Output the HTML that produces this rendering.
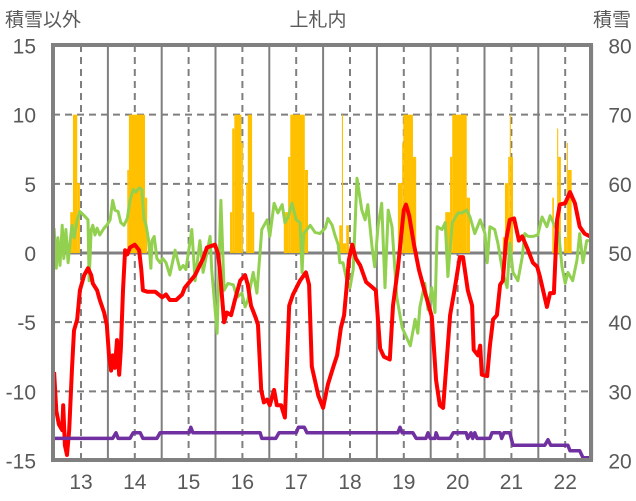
<!DOCTYPE html>
<html><head><meta charset="utf-8">
<style>
html,body{margin:0;padding:0;background:#fff;}
svg{display:block;font-family:"Liberation Sans","Noto Sans CJK JP",sans-serif;}
</style></head>
<body>
<svg id="chart" width="636" height="501" viewBox="0 0 636 501" xmlns="http://www.w3.org/2000/svg">
  <text x="5" y="26" font-size="19" fill="#595959">積雪以外</text>
  <text x="318" y="26" font-size="19" fill="#595959" text-anchor="middle">上札内</text>
  <text x="631" y="26" font-size="19" fill="#595959" text-anchor="end">積雪</text>
  <g id="grid"></g>
  <g id="bars"></g>
  <g id="lines"></g>
  <g id="axes"></g>
</svg>
<script>
const yearTicks=[13,14,15,16,17,18,19,20,21,22];
const leftTicks=[15,10,5,0,-5,-10,-15];
const rightTicks=[80,70,60,50,40,30,20];

const redT=[12.50,12.54,12.59,12.65,12.67,12.70,12.74,12.78,12.83,12.87,12.93,12.98,13.06,13.13,13.19,13.22,13.30,13.35,13.43,13.48,13.52,13.56,13.59,13.63,13.67,13.71,13.74,13.78,13.82,13.86,13.91,14.00,14.08,14.12,14.15,14.23,14.38,14.51,14.58,14.65,14.77,14.88,14.93,15.12,15.27,15.34,15.49,15.55,15.58,15.66,15.71,15.79,15.86,15.96,16.05,16.10,16.16,16.25,16.29,16.35,16.40,16.46,16.51,16.59,16.64,16.72,16.79,16.87,16.94,17.07,17.18,17.24,17.29,17.41,17.50,17.59,17.70,17.76,17.83,17.89,17.94,17.98,18.04,18.11,18.19,18.30,18.48,18.56,18.63,18.74,18.80,18.89,19.00,19.04,19.10,19.19,19.28,19.39,19.52,19.60,19.67,19.73,19.80,19.86,19.95,20.04,20.10,20.19,20.27,20.30,20.38,20.42,20.45,20.55,20.60,20.66,20.73,20.79,20.84,20.90,20.97,21.05,21.14,21.20,21.29,21.40,21.48,21.53,21.66,21.72,21.79,21.85,21.90,22.00,22.09,22.18,22.27,22.36,22.46];
const redV=[-8.6,-11.4,-12.4,-12.8,-11.0,-13.9,-14.6,-12.8,-8.5,-5.6,-4.8,-2.7,-1.6,-1.1,-1.6,-2.2,-2.7,-3.4,-4.3,-5.2,-7.4,-8.5,-7.4,-8.3,-6.3,-8.8,-7.0,-2.7,0.2,-0.1,0.4,0.6,0.2,-1.2,-2.7,-2.8,-2.8,-3.2,-3.0,-3.4,-3.4,-3.0,-2.5,-1.6,-0.4,0.4,0.6,-0.1,-1.2,-5.0,-4.3,-4.5,-3.4,-2.0,-1.6,-2.3,-3.8,-4.7,-5.2,-9.9,-10.8,-10.6,-11.0,-9.9,-11.0,-11.0,-11.9,-3.8,-3.0,-2.0,-1.4,-2.3,-8.2,-10.3,-11.2,-9.5,-8.1,-7.4,-5.4,-4.5,-2.3,-0.5,0.6,-0.4,-0.9,-2.1,-2.7,-6.9,-7.5,-7.7,-3.8,-1.1,3.1,3.5,2.7,0.6,-1.2,-2.8,-4.6,-9.2,-11.0,-11.2,-7.7,-4.5,-2.5,-0.3,-0.3,-2.7,-3.8,-7.0,-7.4,-6.7,-8.8,-8.9,-6.7,-4.8,-4.5,-2.3,-2.0,0.9,2.4,2.5,0.9,1.2,0.4,-0.7,-1.0,-1.7,-3.9,-2.9,-2.9,2.4,3.5,3.6,4.4,3.6,1.9,1.4,1.2];

const greenT=[12.50,12.54,12.57,12.61,12.65,12.68,12.72,12.76,12.80,12.83,12.87,12.93,12.98,13.06,13.13,13.15,13.19,13.22,13.26,13.30,13.35,13.43,13.48,13.54,13.59,13.63,13.69,13.74,13.80,13.86,13.91,13.97,14.02,14.08,14.13,14.17,14.21,14.26,14.30,14.32,14.36,14.41,14.47,14.52,14.58,14.65,14.75,14.84,14.90,14.95,15.06,15.12,15.21,15.27,15.40,15.43,15.53,15.60,15.66,15.73,15.83,15.90,15.99,16.05,16.10,16.20,16.27,16.36,16.46,16.51,16.59,16.66,16.74,16.79,16.85,16.92,17.00,17.07,17.11,17.14,17.26,17.35,17.44,17.54,17.59,17.67,17.72,17.78,17.81,17.87,17.94,18.00,18.06,18.13,18.22,18.28,18.33,18.41,18.46,18.52,18.59,18.65,18.71,18.78,18.87,18.97,19.12,19.21,19.26,19.30,19.39,19.45,19.52,19.58,19.62,19.71,19.77,19.82,19.90,20.01,20.08,20.17,20.23,20.32,20.42,20.51,20.55,20.60,20.69,20.75,20.84,20.92,20.97,21.03,21.12,21.20,21.25,21.31,21.40,21.49,21.57,21.66,21.72,21.81,21.88,21.94,22.00,22.05,22.14,22.22,22.27,22.33,22.40,22.50];
const greenV=[1.8,-1.1,1.1,-0.9,2.0,-0.4,1.7,-0.7,0.9,2.0,1.1,2.4,3.0,2.7,2.4,-2.0,1.7,2.0,1.3,1.8,1.3,1.8,2.0,2.4,3.8,3.1,3.0,2.2,2.0,2.5,3.8,4.6,4.4,4.7,4.6,2.5,2.0,0.8,-1.1,0.9,1.2,-0.4,-0.7,-0.4,-0.7,-1.6,0.2,-1.2,-0.9,-1.2,1.7,-2.0,0.9,-1.4,1.2,-1.2,-5.8,3.8,-2.7,-2.2,-2.3,-3.2,-2.9,-3.9,-3.4,-1.4,-2.9,1.7,2.4,1.2,3.6,2.9,3.5,2.2,2.6,3.6,2.4,2.2,-1.4,1.4,2.0,1.5,1.4,1.8,2.5,2.0,1.3,0.6,-0.7,-0.7,-2.0,-2.5,-1.2,5.4,3.1,2.4,3.5,0.4,-1.0,1.9,3.6,-2.5,3.1,1.9,-3.2,-5.4,-6.7,-4.8,-5.8,-3.9,-2.2,-4.1,-2.5,-4.3,1.9,1.7,2.2,-1.7,2.2,2.9,2.9,3.1,2.6,1.4,2.4,1.4,-0.7,1.9,1.7,0.7,-1.4,-2.5,0.7,-1.4,-2.0,-0.3,1.4,1.2,1.2,1.3,2.6,1.9,2.7,1.9,1.4,-1.0,-2.2,-1.4,-2.0,-0.5,1.4,-0.7,0.9,0.9];

const purpleT=[12.48,13.59,13.65,13.69,13.91,13.97,14.10,14.15,14.41,14.47,15.01,15.04,15.08,16.33,16.36,16.62,16.68,17.00,17.04,17.15,17.20,18.89,18.93,18.97,19.17,19.23,19.41,19.45,19.49,19.58,19.60,19.64,19.86,19.92,20.16,20.19,20.25,20.28,20.32,20.36,20.60,20.64,20.79,20.82,20.86,20.97,21.03,21.62,21.68,21.73,22.05,22.09,22.27,22.33,22.50];
const purpleV=[-13.4,-13.4,-13.0,-13.4,-13.4,-13.0,-13.0,-13.4,-13.4,-13.0,-13.0,-12.6,-13.0,-13.0,-13.4,-13.4,-13.0,-13.0,-12.6,-12.6,-13.0,-13.0,-12.6,-13.0,-13.0,-13.4,-13.4,-13.0,-13.4,-13.4,-13.0,-13.4,-13.4,-13.0,-13.0,-13.4,-13.0,-13.4,-13.0,-13.4,-13.4,-13.0,-13.0,-13.4,-13.0,-13.0,-13.9,-13.9,-13.5,-13.9,-13.9,-14.3,-14.3,-14.8,-14.8];

const barStart=[12.80,12.85,12.93,13.86,13.89,14.19,15.77,15.81,15.85,15.98,16.07,16.10,16.18,16.77,16.85,16.89,17.16,17.80,17.85,17.87,17.93,18.89,18.97,18.99,19.17,19.77,19.86,19.90,20.17,20.84,20.88,20.94,20.97,20.99,21.76,21.85,21.87,21.98,22.03,22.05];
const barEnd=[12.85,12.93,12.98,13.89,14.19,14.23,15.81,15.85,15.98,16.01,16.10,16.18,16.22,16.85,16.89,17.16,17.22,17.85,17.87,17.93,17.98,18.97,18.99,19.17,19.23,19.86,19.90,20.17,20.23,20.88,20.94,20.97,20.99,21.03,21.79,21.87,21.92,22.03,22.05,22.12];
const barValue=[55.9,70,60.1,62,70,58,55.9,68,70,65.9,60.1,70,55.9,55.9,63.9,70,62,54,70,51.4,54,60.1,65.9,70,63.9,55.9,63.9,70,58,52.3,60.1,63.9,70,63.9,58,68,63.9,52.2,65.9,62];

const NS='http://www.w3.org/2000/svg';
const PL=53,PR=591,PT=45,PB=460;
const xS=t=>81+(t-13)*53.8;
const yL=v=>253-v*13.833;
const yR=v=>253-(v-50)*6.917;
function mk(tag,attrs,parent){const e=document.createElementNS(NS,tag);for(const k in attrs)e.setAttribute(k,attrs[k]);parent.appendChild(e);return e;}
const grid=document.getElementById('grid'),bars=document.getElementById('bars'),lines=document.getElementById('lines'),axes=document.getElementById('axes');

leftTicks.forEach(v=>{
  if(v===15||v===-15||v===0)return;
  const g=mk('line',{x1:PL,x2:PR,y1:yL(v),y2:yL(v),stroke:'#7f7f7f','stroke-width':2,'stroke-dasharray':'7,5'},grid);
  
  
});
yearTicks.forEach(y=>{
  const d=mk('line',{x1:xS(y),x2:xS(y),y1:PT,y2:PB,stroke:'#7f7f7f','stroke-width':2,'stroke-dasharray':'7,5'},grid);
  
  
  const s=mk('line',{x1:xS(y+0.5),x2:xS(y+0.5),y1:PT,y2:PB,stroke:'#7f7f7f','stroke-width':2},grid);
  
  
});
barValue.forEach((v,i)=>{
  const x0=xS(barStart[i]),x1=xS(barEnd[i]);
  const r=mk('rect',{x:x0,y:yR(v),width:Math.max(1,x1-x0),height:yR(50)-yR(v),fill:'#ffc000'},bars);
  
  
});
const z=mk('line',{x1:PL,x2:PR,y1:yL(0),y2:yL(0),stroke:'#808080','stroke-width':3},grid);



function path(T,V,color,w,name){
  const d=T.map((t,i)=>(i?'L':'M')+xS(t).toFixed(1)+','+yL(V[i]).toFixed(1)).join('');
  const p=mk('path',{d:d,fill:'none',stroke:color,'stroke-width':w,'stroke-linejoin':'round'},lines);
  
  
}
path(greenT,greenV,'#92d050',3,'green-series-line');
path(redT,redV,'#ff0000',4,'red-series-line');
path(purpleT,purpleV,'#7030a0',3.5,'purple-series-line');

const f=mk('rect',{x:PL,y:PT,width:PR-PL,height:PB-PT,fill:'none',stroke:'#808080','stroke-width':4},axes);



leftTicks.forEach(v=>{
  const t=mk('text',{x:36,y:yL(v)+8,'font-size':21,fill:'#595959','text-anchor':'end'},axes);
  t.textContent=v;
  
  
});
rightTicks.forEach(v=>{
  const t=mk('text',{x:620,y:yR(v)+8,'font-size':21,fill:'#595959','text-anchor':'middle'},axes);
  t.textContent=v;
  
  
});
yearTicks.forEach(y=>{
  const t=mk('text',{x:xS(y),y:489,'font-size':21,fill:'#595959','text-anchor':'middle'},axes);
  t.textContent=y;
  
  
});
</script>
</body></html>
